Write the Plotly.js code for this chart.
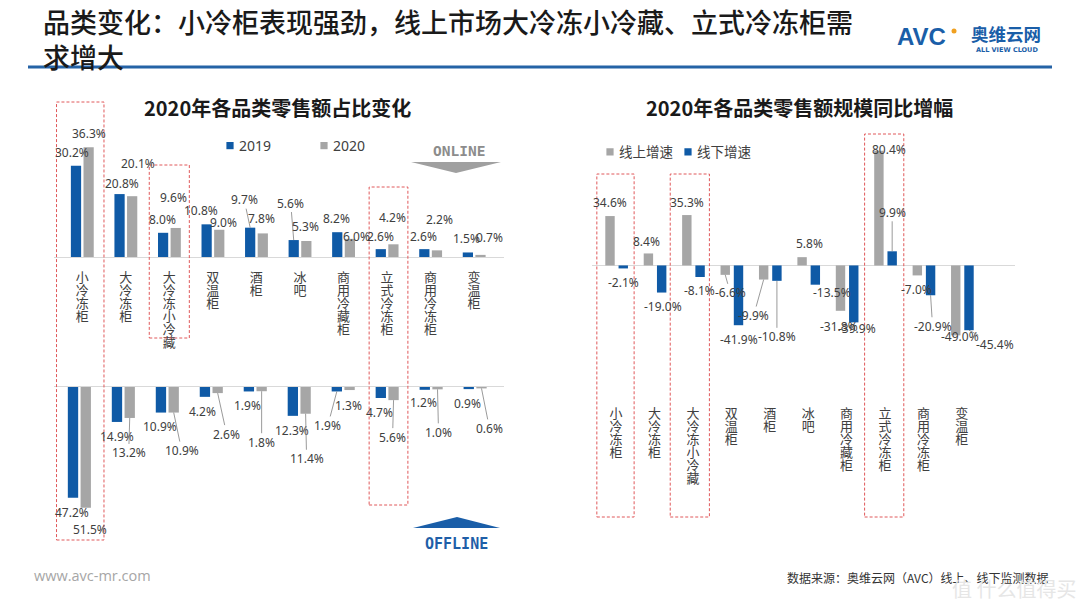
<!DOCTYPE html>
<html><head><meta charset="utf-8">
<script src="https://cdn.plot.ly/plotly-3.0.1.min.js"></script>
<style>html,body{margin:0;padding:0;background:#fff}#chart{width:1080px;height:608px}</style>
</head><body><div id="chart"></div>
<script>
// ---------------- DATA ----------------
const categories = ['小冷冻柜','大冷冻柜','大冷冻小冷藏','双温柜','酒柜','冰吧','商用冷藏柜','立式冷冻柜','商用冷冻柜','变温柜'];
const online2019  = [30.2, 20.8, 8.0, 10.8, 9.7, 5.6, 8.2, 2.6, 2.6, 1.5];
const online2020  = [36.3, 20.1, 9.6, 9.0, 7.8, 5.3, 6.0, 4.2, 2.2, 0.7];
const offline2019 = [47.2, 14.9, 10.9, 4.2, 1.9, 12.3, 1.9, 4.7, 1.2, 0.9];
const offline2020 = [51.5, 13.2, 10.9, 2.6, 1.8, 11.4, 1.3, 5.6, 1.0, 0.6];
const onlineGrowth  = [34.6, 8.4, 35.3, -6.6, -9.9, 5.8, -31.8, 80.4, -7.0, -49.0];
const offlineGrowth = [-2.1, -19.0, -8.1, -41.9, -10.8, -13.5, -39.9, 9.9, -20.9, -45.4];
const highlightLeft  = ['小冷冻柜','大冷冻小冷藏','立式冷冻柜'];
const highlightRight = ['小冷冻柜','大冷冻小冷藏','立式冷冻柜'];
const seriesNames = ['2019','2020','线上增速','线下增速'];
const mainTitle = '品类变化：小冷柜表现强劲，线上市场大冷冻小冷藏、立式冷冻柜需<br>求增大';
const leftTitle = '2020年各品类零售额占比变化';
const rightTitle = '2020年各品类零售额规模同比增幅';

// ---------------- STYLE ----------------
const W = 1080, H = 608;
const px = v => v / W;
const py = v => 1 - v / H;
const BLUE = '#0f5aa6', GRAY = '#a6a6a6', RED = '#e0585a';
const FONT_CJK = '"Noto Sans CJK SC", "Noto Sans", sans-serif';
const FONT_NUM = '"Noto Sans", "Open Sans", sans-serif';
const LINE_RATIO = 1.0;
const L_W = 0.235, L_OFF_A = -0.26, L_OFF_B = 0.03;
const R_W = 0.245, R_OFF_A = -0.28, R_OFF_B = 0.065;

// label offsets (px) relative to bar tip, and whether a leader line is drawn
const lab = {
  on19:  {dx:[-4,2,-1,-6,-6,-3,-1,0,-1,-1], dy:[-13,-11,-13,-14,-28,-37,-14,-13,-13,-14], lead:[0,0,0,0,1,1,0,0,0,0]},
  on20:  {dx:[0,6,-2,4,-1,-1,7,-1,3,9], dy:[-14,-33,-30,-7,-15,-14,-2,-27,-31,-17], lead:[0,0,0,0,0,0,0,0,0,0]},
  off19: {dx:[-1,0,-1,-2,-1,-1,-9,-1,-1,-1], dy:[15,15,14,15,14,15,34,14,13,14], lead:[0,0,0,0,0,0,1,0,0,0]},
  off20: {dx:[4,-1,8,9,0,1,-1,-1,1,8], dy:[22,35,38,41,51,45,15,37,43,40], lead:[0,1,1,1,1,1,0,1,1,1]},
  gOn:   {dx:[0,-2,0,5,-10,7,-2,10,-1,4], dy:[-14,-12,-13,18,36,-14,16,-1,14,1], lead:[0,0,0,1,1,0,0,0,0,0]},
  gOff:  {dx:[0,1,-1,0,0,17,3,0,2,26], dy:[14,14,14,14,56,8,6,-39,31,14], lead:[0,0,0,0,1,0,0,1,1,1]}
};

const vertical = s => Array.from(s).join('<br>');
const pct = v => v.toFixed(1) + '%';

const barBase = {type:'bar', hoverinfo:'skip', cliponaxis:false, x:categories};
const traces = [
  {...barBase, name:seriesNames[0], y:online2019, xaxis:'x', yaxis:'y', width:L_W, offset:L_OFF_A, marker:{color:BLUE}, legend:'legend'},
  {...barBase, name:seriesNames[1], y:online2020, xaxis:'x', yaxis:'y', width:L_W, offset:L_OFF_B, marker:{color:GRAY}, legend:'legend2'},
  {...barBase, name:seriesNames[0], y:offline2019.map(v=>-v), xaxis:'x2', yaxis:'y2', width:L_W, offset:L_OFF_A, marker:{color:BLUE}, showlegend:false},
  {...barBase, name:seriesNames[1], y:offline2020.map(v=>-v), xaxis:'x2', yaxis:'y2', width:L_W, offset:L_OFF_B, marker:{color:GRAY}, showlegend:false},
  {...barBase, name:seriesNames[2], y:onlineGrowth, xaxis:'x3', yaxis:'y3', width:R_W, offset:R_OFF_A, marker:{color:GRAY}, legend:'legend3'},
  {...barBase, name:seriesNames[3], y:offlineGrowth, xaxis:'x3', yaxis:'y3', width:R_W, offset:R_OFF_B, marker:{color:BLUE}, legend:'legend4'}
];

function barLabels(vals, xref, yref, off, w, sign, spec, fmt){
  return vals.map((v,i)=>({
    xref, yref, x: i + off + w/2, y: sign*v, text: fmt(v),
    showarrow:true, axref:'pixel', ayref:'pixel', ax: spec.dx[i], ay: spec.dy[i],
    arrowhead:0, arrowwidth:0.8, standoff:0,
    arrowcolor: spec.lead[i] ? '#808080' : 'rgba(0,0,0,0)',
    font:{family:FONT_NUM, size:12, color:'#404040'}, borderpad:0
  }));
}

const textAnn = (text, x, y, font, xanchor='center', extra={}) => ({
  xref:'paper', yref:'paper', x:px(x), y:py(y), xanchor, yanchor:'middle',
  text, showarrow:false, font, ...extra
});

const annotations = [
  ...barLabels(online2019, 'x', 'y', L_OFF_A, L_W, 1, lab.on19, pct),
  ...barLabels(online2020, 'x', 'y', L_OFF_B, L_W, 1, lab.on20, pct),
  ...barLabels(offline2019, 'x2', 'y2', L_OFF_A, L_W, -1, lab.off19, pct),
  ...barLabels(offline2020, 'x2', 'y2', L_OFF_B, L_W, -1, lab.off20, pct),
  ...barLabels(onlineGrowth, 'x3', 'y3', R_OFF_A, R_W, 1, lab.gOn, pct),
  ...barLabels(offlineGrowth, 'x3', 'y3', R_OFF_B, R_W, 1, lab.gOff, pct),
  textAnn(mainTitle, 41, 38.5, {family:FONT_CJK, size:27, color:'#1a1a1a', weight:500}, 'left', {align:'left'}),
  textAnn(leftTitle, 277, 108, {family:FONT_CJK, size:20, color:'#1a1a1a', weight:'bold'}),
  textAnn(rightTitle, 799, 108, {family:FONT_CJK, size:20, color:'#1a1a1a', weight:'bold'}),
  textAnn('ONLINE', 459, 151, {family:'"DejaVu Sans Mono", monospace', size:14.5, color:'#8c8c8c', weight:'bold'}),
  textAnn('OFFLINE', 456, 544, {family:'"DejaVu Sans Mono", monospace', size:15, color:'#1f5fa8', weight:'bold'}),
  textAnn('AVC', 921, 36, {family:'"Liberation Sans", Arial, sans-serif', size:24, color:'#1a5ea8', weight:900}),
  textAnn('奥维云网', 1006, 33.5, {family:FONT_CJK, size:17.5, color:'#1a5ea8', weight:'bold'}),
  textAnn('ALL VIEW CLOUD', 1007, 50, {family:'"DejaVu Sans", sans-serif', size:6.5, color:'#1a5ea8', weight:'bold'}),
  textAnn('www.avc-mr.com', 32, 575, {family:'"Open Sans", sans-serif', size:14.5, color:'#a6a6a6'}, 'left'),
  textAnn('数据来源：奥维云网（AVC）线上、线下监测数据', 785, 577, {family:FONT_CJK, size:12, color:'#333333'}, 'left'),
  textAnn('值 什么值得买', 1078, 588, {family:FONT_CJK, size:20, color:'#e6e6e6'}, 'right')
];

const dashed = {color:RED, width:1, dash:'3px,2px'};
const rect = (xref, cat, a, b, top, bottom) => {
  const i = categories.indexOf(cat);
  return {type:'rect', xref, yref:'paper', x0:i-a, x1:i+b, y0:py(bottom), y1:py(top), line:dashed, fillcolor:'rgba(0,0,0,0)', layer:'above'};
};
const path = pts => 'M' + pts.map(p => px(p[0]) + ',' + py(p[1])).join('L') + 'Z';

const shapes = [
  rect('x', highlightLeft[0], 0.59, 0.5, 102, 540),
  rect('x', highlightLeft[1], 0.46, 0.46, 165, 338),
  rect('x', highlightLeft[2], 0.41, 0.48, 187, 505),
  rect('x3', highlightRight[0], 0.5, 0.47, 174, 517),
  rect('x3', highlightRight[1], 0.59, 0.43, 174, 517),
  rect('x3', highlightRight[2], 0.53, 0.49, 134, 517),
  {type:'line', xref:'paper', yref:'paper', x0:px(28), x1:px(1052), y0:py(67), y1:py(67), line:{color:'#2563a6', width:3}},
  {type:'path', xref:'paper', yref:'paper', path:path([[411,162],[501,162],[456,173]]), fillcolor:'#a0a0a0', line:{width:0}},
  {type:'path', xref:'paper', yref:'paper', path:path([[413,528],[500,528],[457,517]]), fillcolor:'#1a5ea8', line:{width:0}},
  {type:'circle', xref:'paper', yref:'paper', x0:px(951.5), x1:px(956.5), y0:py(33.5), y1:py(28.5), fillcolor:'#f0a020', line:{width:0}}
];

const catAxis = {
  type:'category', tickmode:'array', tickvals:categories, ticktext:categories.map(vertical),
  ticks:'', showgrid:false, zeroline:false, fixedrange:true,
  tickfont:{family:FONT_CJK, size:13, color:'#404040'}
};
const hiddenY = {showgrid:false, zeroline:false, showticklabels:false, showline:false, ticks:'', fixedrange:true};
const legendBase = {orientation:'h', xanchor:'left', yanchor:'middle', bgcolor:'rgba(0,0,0,0)', borderwidth:0, itemclick:false, itemdoubleclick:false};
const legFont = {family:FONT_NUM, size:14, color:'#404040'};
const legFontCJK = {family:FONT_CJK, size:13.5, color:'#404040'};

const layout = {
  width:W, height:H, margin:{l:0,r:0,t:0,b:0}, paper_bgcolor:'#ffffff', plot_bgcolor:'rgba(0,0,0,0)',
  barmode:'overlay', showlegend:true,
  xaxis:{...catAxis, domain:[px(54),px(504)], anchor:'y', showline:true, linecolor:'#d9d9d9', linewidth:1, ticklabelstandoff:8},
  yaxis:{...hiddenY, domain:[py(257),py(136)], anchor:'x', range:[0,40]},
  xaxis2:{...catAxis, domain:[px(54),px(504)], anchor:'y2', side:'top', showline:true, linecolor:'#d9d9d9', linewidth:1, showticklabels:false},
  yaxis2:{...hiddenY, domain:[py(516),py(387)], anchor:'x2', range:[-55,0]},
  xaxis3:{...catAxis, domain:[px(592),px(1015)], anchor:'y3', showline:false, ticklabelstandoff:3},
  yaxis3:{...hiddenY, domain:[py(401),py(137)], anchor:'x3', range:[-95,90], zeroline:true, zerolinecolor:'#d9d9d9', zerolinewidth:1},
  legend:{...legendBase, x:px(199), y:py(146), font:legFont},
  legend2:{...legendBase, x:px(293), y:py(146), font:legFont},
  legend3:{...legendBase, x:px(579), y:py(152), font:legFontCJK},
  legend4:{...legendBase, x:px(657), y:py(152), font:legFontCJK},
  annotations, shapes
};

function tidy(){
  // stack vertical category labels tightly, like the reference
  document.querySelectorAll('#chart .xtick text, #chart .x3tick text').forEach(t => {
    t.querySelectorAll('tspan.line').forEach(s => {
      if (s.getAttribute('data-tight')) return;
      const dy = parseFloat(s.getAttribute('dy')) || 0;
      s.setAttribute('dy', (dy / 1.3 * LINE_RATIO).toFixed(3) + 'em');
      s.setAttribute('data-tight', '1');
    });
  });
  // small legend squares close to their text
  document.querySelectorAll('#chart .legendpoints path').forEach(p => {
    if (p.getAttribute('data-tight')) return;
    const tr = p.getAttribute('transform') || '';
    p.setAttribute('transform', tr + ' translate(11,0) scale(0.6)');
    p.setAttribute('data-tight', '1');
  });
}

const gd = document.getElementById('chart');
Plotly.newPlot(gd, traces, layout, {staticPlot:true, displayModeBar:false}).then(() => {
  tidy();
  gd.on && gd.on('plotly_afterplot', tidy);
  setTimeout(tidy, 30);
  setTimeout(tidy, 200);
});
</script>
</body></html>
